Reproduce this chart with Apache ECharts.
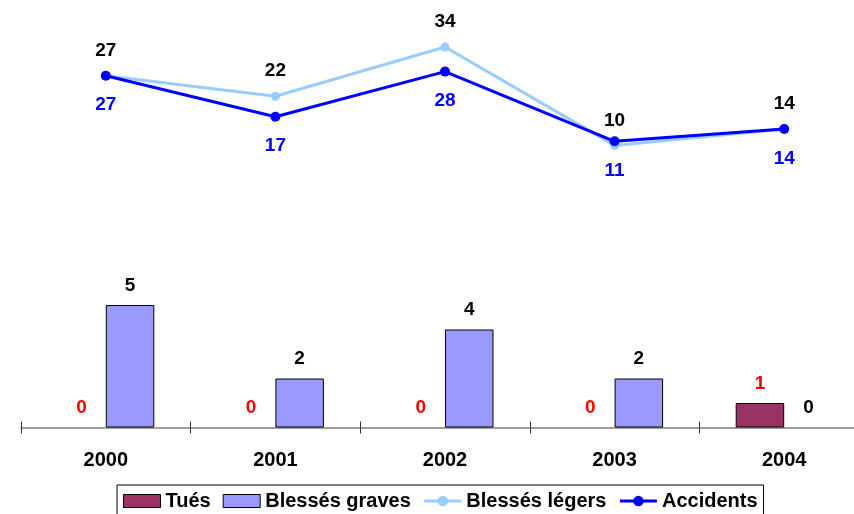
<!DOCTYPE html>
<html>
<head>
<meta charset="utf-8">
<script src="https://cdn.jsdelivr.net/npm/echarts@6/dist/echarts.min.js"></script>
<style>html,body{margin:0;padding:0;background:#fff;overflow:hidden;width:854px;height:514px;}#c{width:880px;height:514px;}</style>
</head>
<body>
<div id="c"></div>
<script>
const years = ['2000', '2001', '2002', '2003', '2004'];
const tues = [0, 0, 0, 0, 1];
const blessesGraves = [5, 2, 4, 2, 0];
const blessesLegers = [27, 22, 34, 10, 14];
const accidents = [27, 17, 28, 11, 14];

const FONT = '"Liberation Sans", Arial, sans-serif';
function barData(arr) {
  return arr.map(v => v === 0 ? { value: v, itemStyle: { borderWidth: 0 } } : v);
}
const chart = echarts.init(document.getElementById('c'));
chart.setOption({
  animation: false,
  backgroundColor: '#ffffff',
  textStyle: { fontFamily: FONT },
  legend: {
    left: 117, top: 485,
    padding: [6, 6, 6, 6],
    borderColor: '#000', borderWidth: 1,
    itemWidth: 37, itemHeight: 13, itemGap: 12,
    textStyle: { fontFamily: FONT, fontSize: 20, fontWeight: 'bold', color: '#000' },
    data: [
      { name: 'Tués', icon: 'rect', itemStyle: { borderColor: '#000', borderWidth: 1 } },
      { name: 'Blessés graves', icon: 'rect', itemStyle: { borderColor: '#000', borderWidth: 1 } },
      { name: 'Blessés légers', lineStyle: { width: 3 } },
      { name: 'Accidents', lineStyle: { width: 3 } }
    ]
  },
  grid: [
    { left: 21, width: 848, top: 22.4, height: 164 },
    { left: 21, width: 848, top: 280.5, height: 147 }
  ],
  xAxis: [
    { type: 'category', gridIndex: 0, data: years, show: false },
    { type: 'category', gridIndex: 1, data: years,
      axisLine: { lineStyle: { color: '#808080', width: 1.5 } },
      axisTick: { show: true, length: 6, lineStyle: { color: '#333', width: 1 } },
      axisLabel: { margin: 23, fontFamily: FONT, fontSize: 20, fontWeight: 'bold', color: '#000' } },
    { type: 'category', gridIndex: 1, data: years, position: 'bottom',
      axisLine: { show: false },
      axisTick: { show: true, inside: true, length: 6, lineStyle: { color: '#333', width: 1 } },
      axisLabel: { show: false } }
  ],
  yAxis: [
    { type: 'value', gridIndex: 0, min: 0, max: 40, show: false },
    { type: 'value', gridIndex: 1, min: 0, max: 6, show: false }
  ],
  series: [
    { name: 'Tués', type: 'bar', xAxisIndex: 1, yAxisIndex: 1, data: barData(tues),
      barWidth: 48.5, barGap: '0%',
      itemStyle: { color: '#993366', borderColor: '#000', borderWidth: 1 },
      label: { show: true, position: 'top', distance: 10, fontFamily: FONT, fontSize: 19, fontWeight: 'bold', color: '#FF0000' } },
    { name: 'Blessés graves', type: 'bar', xAxisIndex: 1, yAxisIndex: 1, data: barData(blessesGraves),
      barWidth: 48.5, barGap: '0%',
      itemStyle: { color: '#9999FF', borderColor: '#000', borderWidth: 1 },
      label: { show: true, position: 'top', distance: 10, fontFamily: FONT, fontSize: 19, fontWeight: 'bold', color: '#000' } },
    { name: 'Blessés légers', type: 'line', xAxisIndex: 0, yAxisIndex: 0, data: blessesLegers,
      symbol: 'circle', symbolSize: 9,
      lineStyle: { color: '#99CCFF', width: 3 },
      itemStyle: { color: '#99CCFF' },
      label: { show: true, position: 'top', distance: 11, fontFamily: FONT, fontSize: 19, fontWeight: 'bold', color: '#000' } },
    { name: 'Accidents', type: 'line', xAxisIndex: 0, yAxisIndex: 0, data: accidents,
      symbol: 'circle', symbolSize: 10,
      lineStyle: { color: '#0000FF', width: 3 },
      itemStyle: { color: '#0000FF' },
      label: { show: true, position: 'bottom', distance: 15, fontFamily: FONT, fontSize: 19, fontWeight: 'bold', color: '#0000FF' } }
  ]
});
</script>
</body>
</html>
